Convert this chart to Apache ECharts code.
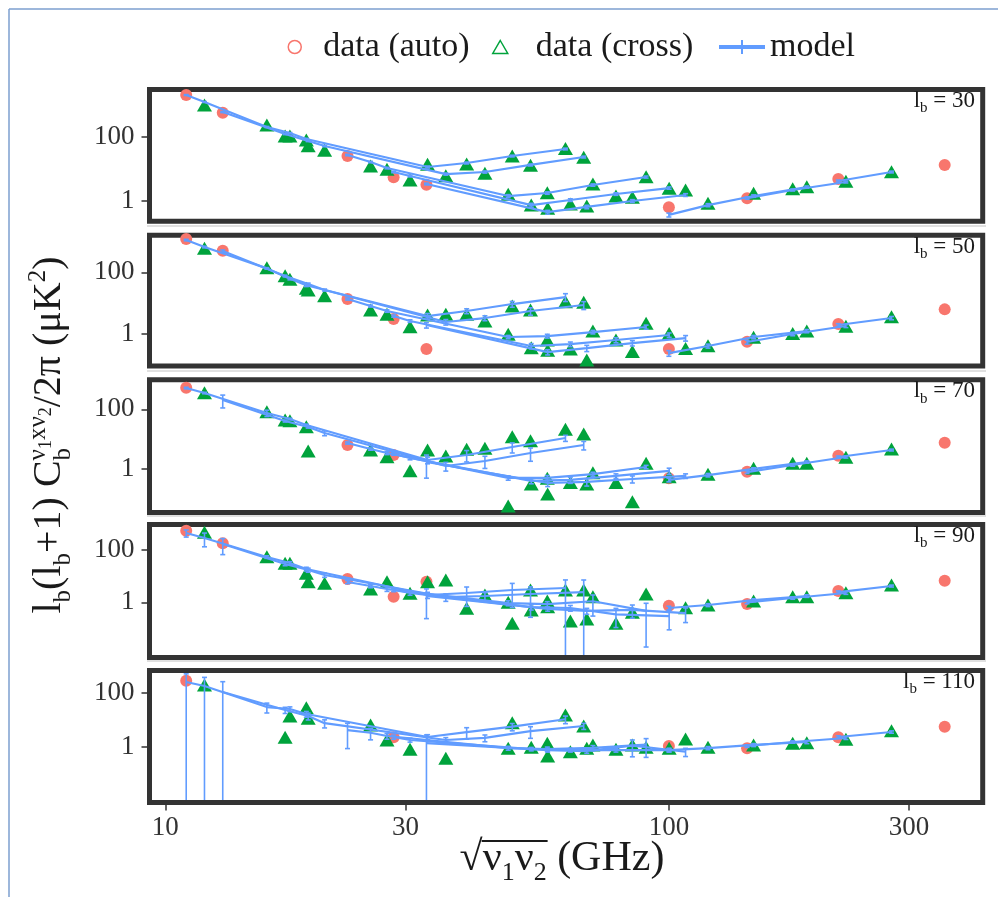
<!DOCTYPE html>
<html>
<head>
<meta charset="utf-8">
<title>Band powers vs frequency</title>
<script src="https://cdn.jsdelivr.net/npm/echarts@6.0.0/dist/echarts.min.js"></script>
<style>
  html, body { margin: 0; padding: 0; background: #ffffff; }
  #chart { width: 998px; height: 897px; }
</style>
</head>
<body>
<div id="chart"></div>
<script>
// Frequency channels (GHz)
const channels = [11, 13, 23, 28.4, 33, 100, 143, 217, 353];
// Multipole bin centres, one panel each
const multipoles = [30, 50, 70, 90, 110];

// Spectra are listed by lower channel i, then partner j >= i:
// 11x11, 11x13, ..., 11x353, 13x13, ..., 217x353, 353x353  (i == j is an auto spectrum)
// Measured band powers (uK^2); null = not shown
const data_lb30 = [
  2010, 980, 232, 105, 79, 13.7, 14, 25, 43,
  562, 105, 52, 38, 6.0, 7.2, 12.8, 22.7,
  25, 12.1, 9.6, 1.58, 1.78, 3.3, 5.6,
  5.4, 4.4, 0.73, 0.79, 1.4, 2.44,
  3.16, 0.58, 0.68, 1.28, 2.16,
  0.62, 0.83, 1.70, 2.74,
  1.19, 2.37, 4.04,
  4.77, 8.06,
  13.1
];
const data_lb50 = [
  1200, 600, 141, 59.3, 30.3, 4.13, 4.35, 8.09, 11.1,
  501, 77.6, 26.7, 17.4, 4.35, 2.64, 6.0, 10.7,
  13.6, 6.0, 4.35, 0.98, 0.64, 1.25, 2.22,
  3.06, 1.73, 0.36, 0.33, 0.64, 1.05,
  0.33, 0.30, 0.144, 0.27, 0.34,
  0.33, 0.42, 0.78, 1.25,
  0.56, 1.05, 1.78,
  2.11, 3.64,
  6.3
];
const data_lb70 = [
  533, 362, 83, 41.3, 25.9, 4.26, 4.5, 11.9, 21.2,
  null, 43.6, 3.94, null, 2.68, 4.86, 8.77, 14.7,
  6.28, 4.26, 2.54, 0.055, 0.475, 0.73, 1.52,
  2.89, 0.86, 0.305, 0.34, 0.34, 0.54,
  null, 0.14, 0.305, 0.077, null,
  0.475, 0.65, 1.03, 1.52,
  0.79, 1.52, 2.42,
  2.74, 4.6,
  7.5
];
const data_lb90 = [
  528, 459, 54.2, 30.4, 12.7, 6.07, 0.59, 0.16, 2.94,
  175, 30.4, 6.07, 5.28, 7.05, 1.9, 2.94, 2.94,
  7.69, 3.2, 6.07, 1.0, 1.12, 1.63, 2.07,
  1.63, 2.2, 0.51, 0.195, 0.16, null,
  6.07, 0.68, 0.23, 0.42, 0.62,
  0.74, 0.79, 1.12, 1.63,
  0.86, 1.63, 2.32,
  2.69, 4.55,
  6.63
];
const data_lb110 = [
  287, 199, null, 13.9, 28.4, null, null, 7.83, 15.2,
  null, 2.24, 11.4, null, 0.37, null, null, 5.9,
  null, 6.43, 1.78, 0.87, 1.34, 1.16, 0.95,
  2.24, 0.8, 0.95, 0.65, 0.8, 0.87,
  null, 0.45, 0.87, 1.16, 1.94,
  1.06, 0.95, 1.16, 1.41,
  0.87, 1.34, 1.89,
  2.24, 3.95,
  5.56
];

// Model prediction at each spectrum (same ordering)
const model_lb30 = [
  2010, 1214, 201, 130, 84.8, 11.3, 15.1, 24.9, 41.3,
  591, 121, 73.4, 51.2, 6.8, 7.9, 13.1, 23.2,
  26.8, 16.2, 10.5, 1.40, 1.74, 3.09, 5.5,
  7.9, 5.9, 0.73, 1.05, 1.62, 2.49,
  3.33, 0.44, 0.64, 0.98, 1.51,
  0.36, 0.73, 1.40, 2.68,
  1.21, 2.16, 3.84,
  4.13, 7.9,
  null
];
const model_lb50 = [
  1114, 661, 134, 62, 38, 3.83, 5.57, 9.38, 15.8,
  490, 75.9, 41.8, 26.7, 2.45, 3.30, 5.57, 8.71,
  13.6, 8.09, 5.57, 0.80, 0.86, 1.16, 1.69,
  3.83, 2.64, 0.41, 0.47, 0.64, 0.93,
  1.96, 0.26, 0.35, 0.51, 0.74,
  0.24, 0.41, 0.80, 1.25,
  0.55, 1.0, 1.82,
  1.96, 3.30,
  null
];
const model_lb70 = [
  521, 354, 75, 47.1, 29.6, 1.96, 2.89, 5.38, 10.8,
  206, 40.4, 25.3, 15.9, 1.23, 1.82, 3.38, 6.28,
  7.33, 4.6, 3.38, 0.49, 0.49, 0.66, 1.14,
  3.13, 2.29, 0.39, 0.42, 0.57, 0.84,
  1.68, 0.33, 0.36, 0.45, 0.57,
  0.42, 0.61, 0.98, 1.68,
  0.77, 1.33, 2.48,
  2.48, 4.26,
  null
];
const model_lb90 = [
  432, 279, 52.8, 31.2, 18.5, 1.9, 2.26, 2.94, 3.5,
  165, 28.6, 16.9, 10.9, 1.59, 1.74, 2.07, 2.46,
  5.92, 4.17, 3.2, 0.94, 0.86, 1.1, 0.47,
  2.94, 2.26, 0.66, 0.61, 0.35, 0.30,
  1.74, 0.56, 0.47, 0.52, 0.39,
  0.61, 0.79, 1.22, 1.74,
  1.0, 1.46, 2.26,
  2.46, 4.17,
  null
];
const model_lb110 = [
  257, 182, 30, 25.4, 16.5, 2.3, 3.5, 5.6, 10.5,
  109, 23.3, 13.9, 7.5, 1.78, 2.13, 3.8, 5.9,
  4.15, 3.3, 2.5, 0.89, 0.82, 0.9, 1.2,
  2.3, 1.78, 0.82, 0.75, 0.75, 0.75,
  1.37, 0.75, 0.69, 1.1, 0.65,
  0.75, 0.89, 1.16, 1.5,
  1.06, 1.5, 2.11,
  2.3, 3.53,
  null
];

// 1-sigma uncertainty of each model point (uK^2)
const sigma_lb30 = [
  60, 40, 8, 5, 4, 0.8, 1.0, 1.5, 2.5,
  25, 5, 3, 2.5, 0.5, 0.6, 0.9, 1.5,
  1.3, 0.8, 0.6, 0.15, 0.15, 0.25, 0.4,
  0.4, 0.35, 0.1, 0.1, 0.15, 0.2,
  0.2, 0.06, 0.08, 0.1, 0.15,
  0.05, 0.08, 0.12, 0.2,
  0.1, 0.15, 0.25,
  0.3, 0.5,
  null
];
const sigma_lb50 = [
  60, 40, 8, 5, 3.5, 0.8, 1.0, 2.0, 4.5,
  40, 5, 3, 2, 0.5, 0.6, 1.5, 2.5,
  1, 0.6, 0.5, 0.1, 0.12, 0.15, 0.25,
  0.3, 0.25, 0.08, 0.08, 0.12, 0.15,
  0.4, 0.05, 0.08, 0.1, 0.15,
  0.05, 0.06, 0.1, 0.15,
  0.08, 0.12, 0.2,
  0.2, 0.4,
  null
];
const sigma_lb70 = [
  30, 20, 18, 3, 2, 0.5, 1.2, 2, 2.5,
  95, 3, 2, 3, 0.4, 0.8, 1.6, 2,
  0.6, 0.4, 0.4, 0.08, 0.1, 0.1, 0.15,
  0.3, 0.3, 0.08, 0.1, 0.1, 0.2,
  1.2, 0.08, 0.1, 0.12, 0.1,
  0.06, 0.08, 0.1, 0.15,
  0.08, 0.12, 0.2,
  0.2, 0.3,
  null
];
const sigma_lb90 = [
  130, 150, 6, 4, 3, 0.5, 1.56, 2.3, 3.6,
  100, 4, 3, 2, 0.5, 0.6, 1.8, 4.6,
  0.8, 0.6, 0.6, 0.2, 0.2, 0.8, 0.45,
  0.4, 0.4, 0.15, 0.15, 0.24, 0.21,
  1.5, 0.1, 0.12, 0.27, 0.22,
  0.1, 0.1, 0.15, 0.2,
  0.12, 0.15, 0.25,
  0.25, 0.35,
  null
];
const sigma_lb110 = [
  260, 200, 12, 5, 4, 0.5, 1.6, 1.7, 3.3,
  155, 6, 4, 2.5, 0.4, 0.6, 1.75, 1.5,
  3.3, 1.5, 0.6, 0.15, 0.15, 0.2, 0.8,
  0.4, 0.3, 0.12, 0.12, 0.12, 0.12,
  1.36, 0.12, 0.12, 0.68, 0.22,
  0.1, 0.12, 0.15, 0.2,
  0.12, 0.15, 0.25,
  0.25, 0.35,
  null
];

// Axis ticks
const xTicks = [10, 30, 100, 300];
const yTicks = [1, 100];

// ---- layout and styling ----
const X_RANGE = [9.3, 420];
const Y_RANGES = [[0.229, 2985], [0.092, 1585], [0.0335, 985], [0.008, 908], [0.00835, 689]];
const GRID_TOP = [89.5, 235.3, 379.8, 524.5, 670.5];
const GRID_H = [131.7, 130.7, 132.7, 133, 132];
const GRID_LEFT = 149.5, GRID_RIGHT = 15.3;

const RED = '#F8766D', GREEN = '#00A33C', BLUE = '#619CFF';
const SERIF = '"Liberation Serif", "DejaVu Serif", serif';
const INK = '#1a1a1a', AXIS_INK = '#333333';

const panels = [
  { lb: multipoles[0], data: data_lb30,  model: model_lb30,  sigma: sigma_lb30 },
  { lb: multipoles[1], data: data_lb50,  model: model_lb50,  sigma: sigma_lb50 },
  { lb: multipoles[2], data: data_lb70,  model: model_lb70,  sigma: sigma_lb70 },
  { lb: multipoles[3], data: data_lb90,  model: model_lb90,  sigma: sigma_lb90 },
  { lb: multipoles[4], data: data_lb110, model: model_lb110, sigma: sigma_lb110 }
];

// channel pairs in list order
const pairs = [];
channels.forEach((_, i) => { for (let j = i; j < channels.length; j++) pairs.push([i, j]); });
const effFreq = p => Math.sqrt(channels[p[0]] * channels[p[1]]);

// model error bar: vertical line with short caps, clipped to the panel
function renderErrorBar(params, api) {
  const cs = params.coordSys;
  const x = api.value(0), m = api.value(1), s = api.value(2);
  const inset = 2.5;
  const yMinPix = cs.y + inset, yMaxPix = cs.y + cs.height - inset;
  const px = api.coord([x, m])[0];
  let yTop = api.coord([x, m + s])[1];
  const lo = m - s;
  let yBot = lo > 0 ? api.coord([x, lo])[1] : Infinity;
  const capTop = yTop >= yMinPix, capBot = yBot <= yMaxPix;
  yTop = Math.max(yTop, yMinPix);
  yBot = Math.min(yBot, yMaxPix);
  const style = { stroke: BLUE, lineWidth: 1.6, fill: null };
  const children = [{ type: 'line', shape: { x1: px, y1: yTop, x2: px, y2: yBot }, style }];
  if (capTop) children.push({ type: 'line', shape: { x1: px - 2.5, y1: yTop, x2: px + 2.5, y2: yTop }, style });
  if (capBot) children.push({ type: 'line', shape: { x1: px - 2.5, y1: yBot, x2: px + 2.5, y2: yBot }, style });
  return { type: 'group', children };
}

const series = [];
panels.forEach((pn, k) => {
  const auto = [], cross = [];
  pairs.forEach((p, n) => {
    const v = pn.data[n];
    if (v == null) return;
    (p[0] === p[1] ? auto : cross).push([effFreq(p), v]);
  });
  series.push({
    type: 'scatter', name: 'data (auto)', xAxisIndex: k, yAxisIndex: k,
    data: auto, symbol: 'circle', symbolSize: 12,
    itemStyle: { color: RED, opacity: 1 }, z: 2, silent: true
  });
  series.push({
    type: 'scatter', name: 'data (cross)', xAxisIndex: k, yAxisIndex: k,
    data: cross, symbol: 'triangle', symbolSize: [15, 13],
    itemStyle: { color: GREEN, opacity: 1 }, z: 2, silent: true
  });
  // one model curve per lower channel
  channels.forEach((_, i) => {
    const line = [];
    pairs.forEach((p, n) => {
      if (p[0] === i && pn.model[n] != null) line.push([effFreq(p), pn.model[n]]);
    });
    if (line.length > 1) {
      series.push({
        type: 'line', name: 'model', xAxisIndex: k, yAxisIndex: k,
        data: line, symbol: 'none', smooth: false,
        lineStyle: { color: BLUE, width: 2.2 }, itemStyle: { color: BLUE },
        z: 3, silent: true
      });
    }
  });
  const bars = [];
  pairs.forEach((p, n) => {
    if (pn.model[n] != null && pn.sigma[n] != null) bars.push([effFreq(p), pn.model[n], pn.sigma[n]]);
  });
  series.push({
    type: 'custom', name: 'model', xAxisIndex: k, yAxisIndex: k,
    data: bars, renderItem: renderErrorBar, itemStyle: { color: BLUE },
    z: 3, silent: true
  });
});

const grids = panels.map((_, k) => ({
  left: GRID_LEFT, right: GRID_RIGHT, top: GRID_TOP[k], height: GRID_H[k],
  show: true, borderColor: '#333333', borderWidth: 5, backgroundColor: '#ffffff',
  containLabel: false, outerBoundsMode: 'none'
}));

const xAxes = panels.map((_, k) => ({
  type: 'log', logBase: 10, gridIndex: k, min: X_RANGE[0], max: X_RANGE[1],
  axisLine: { show: false }, splitLine: { show: false }, minorTick: { show: false },
  axisTick: { show: k === panels.length - 1, length: 8, lineStyle: { color: AXIS_INK, width: 1.5 }, customValues: xTicks },
  axisLabel: {
    show: k === panels.length - 1, customValues: xTicks, margin: 12,
    fontFamily: SERIF, fontSize: 27, color: AXIS_INK,
    formatter: v => String(Math.round(v))
  }
}));

const yAxes = panels.map((_, k) => ({
  type: 'log', logBase: 10, gridIndex: k, min: Y_RANGES[k][0], max: Y_RANGES[k][1],
  axisLine: { show: false }, splitLine: { show: false }, minorTick: { show: false },
  axisTick: { show: true, length: 8, lineStyle: { color: AXIS_INK, width: 1.5 }, customValues: yTicks },
  axisLabel: {
    show: true, customValues: yTicks, margin: 15,
    fontFamily: SERIF, fontSize: 27, color: AXIS_INK,
    formatter: v => String(Math.round(v))
  }
}));

// legend: three separately placed entries
const legendText = { fontFamily: SERIF, fontSize: 34, color: INK };
const legends = [
  {
    left: 282.5, top: 25, itemWidth: 13, itemHeight: 13, selectedMode: false,
    textStyle: Object.assign({ padding: [0, 0, 0, 17] }, legendText),
    data: [{ name: 'data (auto)', icon: 'circle', itemStyle: { color: '#ffffff', borderColor: RED, borderWidth: 1.5 } }]
  },
  {
    left: 487, top: 25, itemWidth: 15, itemHeight: 13, selectedMode: false,
    textStyle: Object.assign({ padding: [0, 0, 0, 23] }, legendText),
    data: [{ name: 'data (cross)', icon: 'triangle', itemStyle: { color: '#ffffff', borderColor: GREEN, borderWidth: 1.5 } }]
  },
  {
    left: 714, top: 25, itemWidth: 46, itemHeight: 14, selectedMode: false,
    textStyle: legendText,
    data: [{ name: 'model', icon: 'path://M0,5L46,5L46,9L0,9Z M22,0L24,0L24,14L22,14Z', itemStyle: { color: BLUE } }]
  }
];

// ---- titles and panel labels (sub/superscripts laid out token by token) ----
const ctx = document.createElement('canvas').getContext('2d');
function textWidth(txt, size) { ctx.font = size + 'px ' + SERIF; return ctx.measureText(txt).width; }

// tokens: { t, size, dy (baseline shift, +down), stack (do not advance) }
function layoutMath(tokens) {
  let x = 0;
  const items = [];
  tokens.forEach(tk => {
    items.push({ t: tk.t, size: tk.size, x: x, dy: tk.dy || 0 });
    if (!tk.stack) x += textWidth(tk.t, tk.size);
  });
  return { width: x, items };
}
function mathGroup(tokens, gx, gy, anchor, rotation) {
  const lay = layoutMath(tokens);
  const shift = anchor === 'center' ? -lay.width / 2 : anchor === 'right' ? -lay.width : 0;
  return {
    type: 'group', x: gx, y: gy, rotation: rotation || 0, silent: true, z: 10,
    children: lay.items.map(it => ({
      type: 'text', x: it.x + shift, y: it.dy - 0.3375 * it.size, silent: true,
      style: { text: it.t, fontFamily: SERIF, fontSize: it.size, fill: INK, align: 'left', verticalAlign: 'middle' }
    }))
  };
}

const graphics = [];

// figure frame lines
graphics.push({ type: 'line', shape: { x1: 9, y1: 9, x2: 9, y2: 897 }, style: { stroke: '#7d9fcf', lineWidth: 1.5 }, silent: true });
graphics.push({ type: 'line', shape: { x1: 9, y1: 9, x2: 998, y2: 9 }, style: { stroke: '#7d9fcf', lineWidth: 1.5 }, silent: true });

// faint separators above the lower panels
[226, 371, 516, 661].forEach(y => {
  graphics.push({ type: 'line', shape: { x1: 147, y1: y, x2: 986, y2: y }, style: { stroke: '#d6d6d6', lineWidth: 1.5 }, silent: true });
});

// y-axis title, reading bottom to top
(function () {
  const F = 40, S = 25, SS = 18;
  const tokens = [
    { t: 'l', size: F }, { t: 'b', size: S, dy: 9 },
    { t: '(l', size: F }, { t: 'b', size: S, dy: 9 },
    { t: '+1) C', size: F },
    { t: 'b', size: S, dy: 9, stack: true },
    { t: 'ν', size: S, dy: -16 }, { t: '1', size: SS, dy: -11 },
    { t: 'x', size: S, dy: -16 },
    { t: 'ν', size: S, dy: -16 }, { t: '2', size: SS, dy: -11 },
    { t: '/2π (μK', size: F }, { t: '2', size: S, dy: -16 }, { t: ')', size: F }
  ];
  graphics.push(mathGroup(tokens, 63, 435, 'center', Math.PI / 2));
})();

// x-axis title: sqrt(nu1 nu2) (GHz) with an overline over the radicand
(function () {
  const F = 42, S = 26, base = 873, centre = 562;
  const tokens = [
    { t: '√', size: F },
    { t: 'ν', size: F }, { t: '1', size: S, dy: 9 },
    { t: 'ν', size: F }, { t: '2', size: S, dy: 9 },
    { t: ' (GHz)', size: F }
  ];
  const lay = layoutMath(tokens);
  const x0 = centre - lay.width / 2;
  graphics.push(mathGroup(tokens, x0, base, 'left', 0));
  const barStart = x0 + textWidth('√', F) - 1;
  const barEnd = x0 + textWidth('√νν', F) + textWidth('12', S) + 1;
  graphics.push({ type: 'line', silent: true, z: 10,
    shape: { x1: barStart, y1: base - 32, x2: barEnd, y2: base - 32 },
    style: { stroke: INK, lineWidth: 1.8 } });
})();

// panel labels
panels.forEach((pn, k) => {
  const tokens = [
    { t: 'l', size: 23 }, { t: 'b', size: 15, dy: 5 }, { t: ' = ' + pn.lb, size: 23 }
  ];
  graphics.push(mathGroup(tokens, 975, GRID_TOP[k] + 19, 'right', 0));
});

const chart = echarts.init(document.getElementById('chart'), null, { renderer: 'canvas' });
chart.setOption({
  backgroundColor: '#ffffff',
  animation: false,
  legend: legends,
  grid: grids,
  xAxis: xAxes,
  yAxis: yAxes,
  series: series,
  graphic: graphics
});
</script>
</body>
</html>
